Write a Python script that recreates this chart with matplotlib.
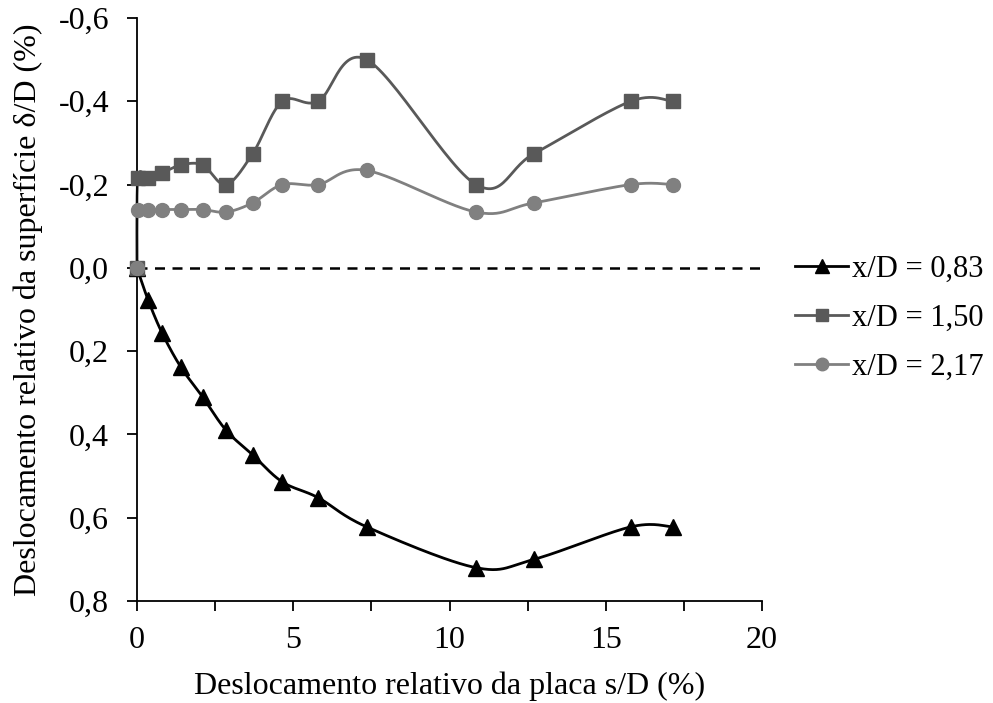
import numpy as np
import matplotlib
matplotlib.use("Agg")
import matplotlib.pyplot as plt
from matplotlib.ticker import FuncFormatter

plt.rcParams['font.family'] = ['Liberation Serif', 'DejaVu Serif']

# Data
x_083 = [0, 0.35, 0.80, 1.40, 2.10, 2.85, 3.70, 4.65, 5.80, 7.35, 10.85, 12.70, 15.80, 17.15]
y_083 = [0, 0.076, 0.156, 0.238, 0.310, 0.390, 0.449, 0.514, 0.552, 0.622, 0.720, 0.700, 0.622, 0.622]

x_150 = [0, 0.03, 0.35, 0.80, 1.40, 2.10, 2.85, 3.70, 4.65, 5.80, 7.35, 10.85, 12.70, 15.80, 17.15]
y_150 = [0, -0.216, -0.216, -0.228, -0.247, -0.247, -0.200, -0.274, -0.400, -0.400, -0.500, -0.200, -0.274, -0.400, -0.400]

x_217 = [0, 0.03, 0.35, 0.80, 1.40, 2.10, 2.85, 3.70, 4.65, 5.80, 7.35, 10.85, 12.70, 15.80, 17.15]
y_217 = [0, -0.140, -0.140, -0.140, -0.140, -0.140, -0.134, -0.156, -0.200, -0.200, -0.234, -0.134, -0.156, -0.200, -0.200]

labels = ['x/D = 0,83', 'x/D = 1,50', 'x/D = 2,17']
xticks = [0, 5, 10, 15, 20]
xminor = [2.5, 7.5, 12.5, 17.5]
yticks = [-0.6, -0.4, -0.2, 0.0, 0.2, 0.4, 0.6, 0.8]

XLIM = (0, 20)
YLIM = (-0.6, 0.8)


def smooth(xs, ys, n=30):
    # Catmull-Rom (Excel-like) smoothing in normalized space
    sx = (XLIM[1] - XLIM[0]) / 625.0
    sy = (YLIM[1] - YLIM[0]) / 583.0
    P = np.column_stack([np.asarray(xs) / sx, np.asarray(ys) / sy])
    out = [P[0]]
    m = len(P)
    for i in range(m - 1):
        p0 = P[i - 1] if i > 0 else P[i]
        p1 = P[i]
        p2 = P[i + 1]
        p3 = P[i + 2] if i + 2 < m else P[i + 1]
        c1 = p1 + (p2 - p0) / 6.0
        c2 = p2 - (p3 - p1) / 6.0
        t = np.linspace(0, 1, n)[1:, None]
        seg = ((1 - t) ** 3) * p1 + 3 * ((1 - t) ** 2) * t * c1 + 3 * (1 - t) * t ** 2 * c2 + t ** 3 * p2
        out.extend(seg)
    out = np.array(out)
    return out[:, 0] * sx, out[:, 1] * sy


fig = plt.figure(figsize=(9.93, 7.03), dpi=100)
ax = fig.add_axes([137 / 993, 102 / 703, 625 / 993, 583 / 703])

ax.axhline(0, color='black', lw=1.8, ls=(0, (4, 3)), zorder=1)

series = [
    (x_083, y_083, 'black', '^', 11),
    (x_150, y_150, '#595959', 's', 10),
    (x_217, y_217, '#808080', 'o', 10),
]
handles = []
for (xs, ys, c, mk, ms), lab in zip(series, labels):
    sxs, sys_ = smooth(xs, ys)
    ax.plot(sxs, sys_, color=c, lw=2, zorder=2, clip_on=False)
    ax.plot(xs, ys, ls='none', marker=mk, color=c, ms=ms, zorder=3, clip_on=False)
    h, = ax.plot([], [], color=c, lw=2, marker=mk, ms=ms - 1, label=lab)
    handles.append(h)

ax.set_xlim(*XLIM)
ax.set_ylim(YLIM[1], YLIM[0])
ax.set_xticks(xticks)
ax.set_xticks(xminor, minor=True)
ax.set_yticks(yticks)
ax.yaxis.set_major_formatter(FuncFormatter(lambda v, p: f"{v:.1f}".replace('.', ',').replace('-0,0', '0,0')))
for s in ['top', 'right']:
    ax.spines[s].set_visible(False)
for s in ['left', 'bottom']:
    ax.spines[s].set_linewidth(1.3)
ax.tick_params(axis='both', which='both', direction='out', length=7, width=1.3, labelsize=23)
ax.tick_params(axis='x', which='major', pad=11)
ax.tick_params(axis='y', which='major', pad=13)

ax.set_xlabel('Deslocamento relativo da placa s/D (%)', fontsize=23, labelpad=12)
ax.set_ylabel('Deslocamento relativo da superfície δ/D (%)', fontsize=23, labelpad=11)

leg = fig.legend(handles=handles, loc='center left', bbox_to_anchor=(795 / 993, 1 - 318 / 703),
                 frameon=False, fontsize=22, handlelength=1.75, handletextpad=0.1,
                 labelspacing=0.65, borderaxespad=0, borderpad=0)

fig.savefig('out.png', dpi=100)
